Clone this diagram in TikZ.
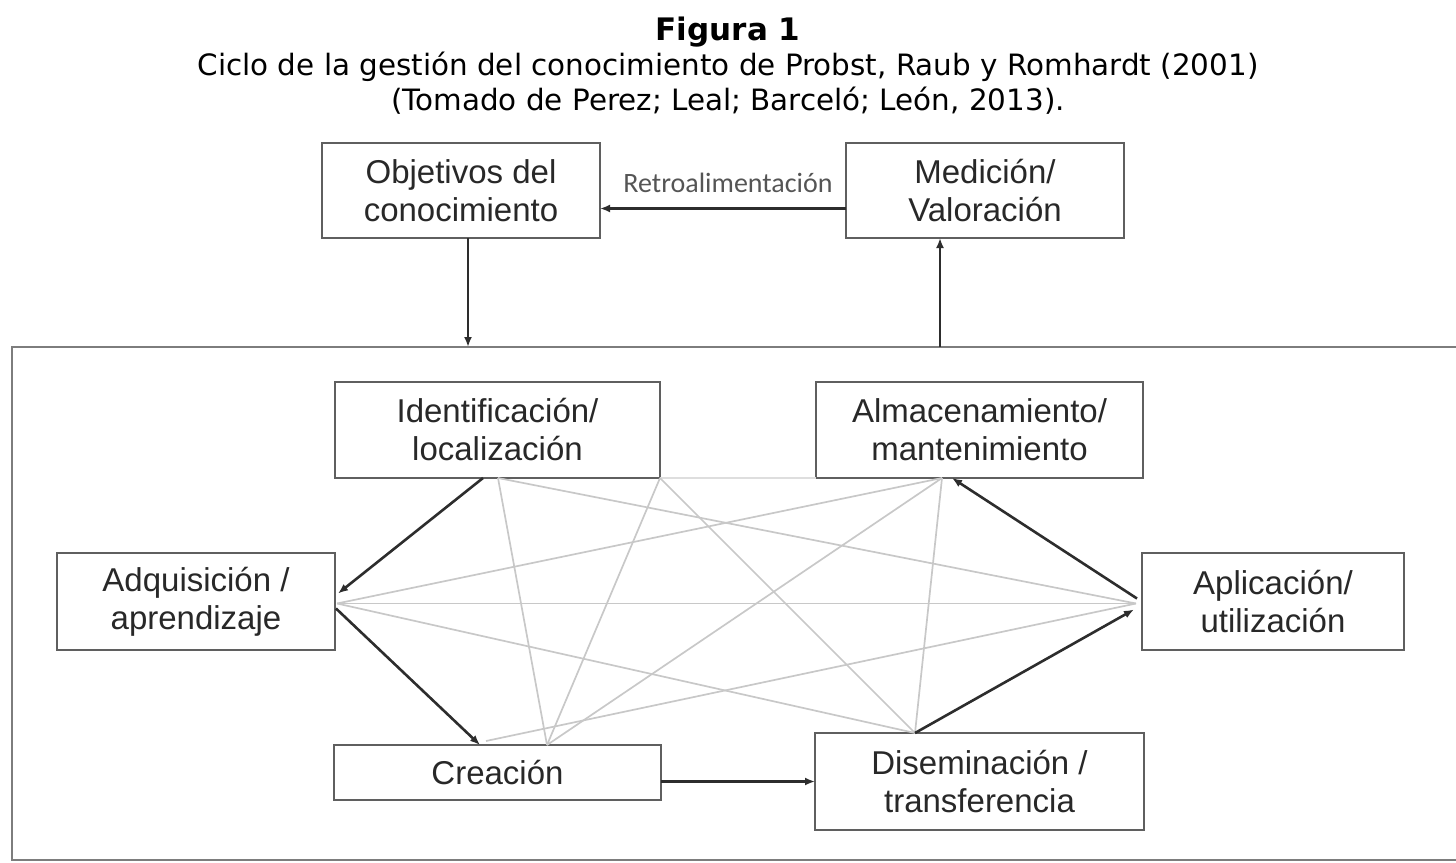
\documentclass[tikz,border=0pt]{standalone}
\usepackage{fontspec}
\setmainfont{Liberation Sans}
\newfontfamily\figfont{DejaVu Sans}
\newfontfamily\retrofont{Carlito}
\usepackage{tikz}
\usetikzlibrary{arrows.meta,calc}
\definecolor{boxline}{RGB}{95,95,95}
\definecolor{frameline}{RGB}{125,125,125}
\definecolor{cycleline}{RGB}{45,45,45}
\definecolor{crossline}{RGB}{200,200,200}
\definecolor{boxtext}{RGB}{40,40,40}
\definecolor{retrotext}{RGB}{85,85,85}

\tikzset{
  stage/.style={draw=boxline, line width=1pt, fill=white, align=center, inner sep=0pt, outer sep=0pt,
    font=\fontsize{16.5}{19}\selectfont, text=boxtext},
  flow/.style={draw=cycleline, line width=1.3pt, -{Latex[length=5pt,width=4pt]}},
  cross/.style={draw=crossline, line width=0.85pt},
  captext/.style={anchor=base, inner sep=0pt, font=\figfont\fontsize{14.7}{17}\selectfont},
}

\begin{document}
\begin{tikzpicture}[x=0.5pt,y=0.5pt,yscale=-1,xscale=1]
\useasboundingbox (0,0) rectangle (1456,862);

% Text Node
\node [captext, font=\figfont\bfseries\fontsize{15.5}{17}\selectfont] (figno) at (728,40) {Figura 1};
\node [captext] (capA) at (728,75) {Ciclo de la gestión del conocimiento de Probst, Raub y Romhardt (2001)};
\node [captext] (capB) at (728,110) {(Tomado de Perez; Leal; Barceló; León, 2013).};

% outer frame, open to the right
\node [draw=frameline, line width=1pt, minimum width=729pt, minimum height=256.5pt, inner sep=0pt, outer sep=0pt] (frame) at (741,603.5) {};

% boxes
\node [stage, minimum width=139pt, minimum height=47.5pt] (obj) at (461,190.5) {Objetivos del\\conocimiento};
\node [stage, minimum width=139pt, minimum height=47.5pt] (med) at (985,190.5) {Medición/\\Valoración};
\node [stage, minimum width=162.5pt, minimum height=48pt] (ident) at (497.5,430) {Identificación/\\localización};
\node [stage, minimum width=163.5pt, minimum height=48pt] (alm) at (979.5,430) {Almacenamiento/\\mantenimiento};
\node [stage, minimum width=139pt, minimum height=48.5pt] (adq) at (196,601.5) {Adquisición /\\aprendizaje};
\node [stage, minimum width=131pt, minimum height=48.5pt] (apl) at (1273,601.5) {Aplicación/\\utilización};
\node [stage, minimum width=163.5pt, minimum height=27.5pt] (cre) at (497.5,772.5) {Creación};
\node [stage, minimum width=164.5pt, minimum height=48.5pt] (dis) at (979.5,781.5) {Diseminación /\\transferencia};

% Text Node
\node [font=\retrofont\fontsize{14}{16}\selectfont, text=retrotext, inner sep=0pt] (retro) at (728,183) {Retroalimentación};

% hubs on the box borders
\coordinate (objD) at ($(obj.south)+(7,0)$);
\coordinate (medU) at ($(med.south)+(-45,0)$);
\coordinate (idA) at ($(ident.south west)+(148,0)$);
\coordinate (idB) at ($(ident.south west)+(163,0)$);
\coordinate (idC) at (ident.south east);
\coordinate (almA) at ($(alm.south west)+(126,0)$);
\coordinate (almB) at ($(alm.south west)+(136,0)$);
\coordinate (adqA) at ($(adq.east)+(3,-8)$);
\coordinate (adqB) at ($(adq.east)+(2,2)$);
\coordinate (adqC) at ($(adq.east)+(1,7)$);
\coordinate (aplA) at ($(apl.west)+(-8,8)$);
\coordinate (aplB) at ($(apl.west)+(-6,2)$);
\coordinate (aplC) at ($(apl.west)+(-5,-3)$);
\coordinate (creA) at ($(cre.north west)+(146,0)$);
\coordinate (creB) at ($(cre.north west)+(152,-4)$);
\coordinate (creC) at ($(cre.north west)+(213,0)$);
\coordinate (disA) at ($(dis.north west)+(100,0)$);

% grey cross links
\draw [cross, draw=crossline!60] (idC) -- (alm.south west);
\draw [cross] (idB) -- (creC);
\draw [cross] (idC) -- (creC);
\draw [cross] (idC) -- (disA);
\draw [cross] (idB) -- (aplB);
\draw [cross] (adqB) -- (almA);
\draw [cross] (adqB) -- (aplB);
\draw [cross] (adqB) -- (disA);
\draw [cross] (creB) -- (aplB);
\draw [cross] (creC) -- (almA);
\draw [cross] (disA) -- (almA);

% knowledge cycle
\draw [flow] (idA) -- (adqA);
\draw [flow] (adqC) -- (creA);
\draw [flow] (cre.east |- dis.west) -- (dis.west);
\draw [flow] (disA) -- (aplA);
\draw [flow] (aplC) -- (almB);

% feedback loop above the frame
\draw [flow] ($(med.west)+(0,18)$) -- ($(obj.east)+(0,18)$);
\draw [flow] (objD) -- (objD |- frame.north);
\draw [flow] (medU |- frame.north) -- (medU);

\end{tikzpicture}
\end{document}
